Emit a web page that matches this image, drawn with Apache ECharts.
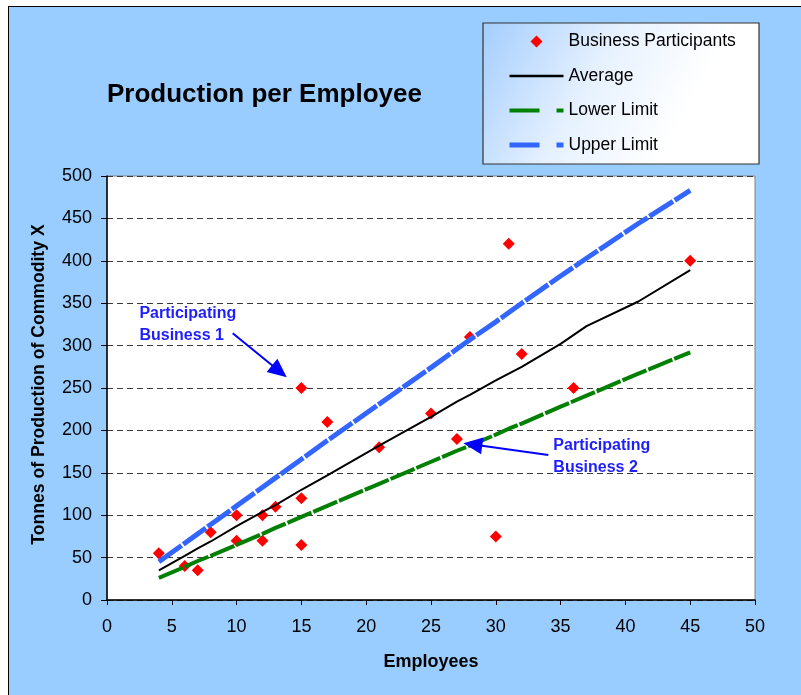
<!DOCTYPE html>
<html>
<head>
<meta charset="utf-8">
<script src="https://cdn.jsdelivr.net/npm/echarts@6/dist/echarts.min.js"></script>
<style>
  html, body { margin: 0; padding: 0; background: #ffffff; overflow: hidden; }
  #frame { position: absolute; left: 8px; top: 6px; width: 810px; height: 710px;
           background: #99ccff; border: 1.5px solid #000; box-sizing: border-box; }
  #chart { position: absolute; left: 0; top: 0; width: 801px; height: 695px; }
</style>
</head>
<body>
<div id="frame"></div>
<div id="chart"></div>
<script>
// Each participating business: employees and tonnes produced
const employees = [4, 6, 7, 8, 10, 10, 12, 12, 13, 15, 15, 15, 17, 21, 25, 27, 28, 30, 31, 32, 36, 45];
const tonnes    = [55, 40, 35, 80, 100, 70, 100, 70, 110, 250, 120, 65, 210, 180, 220, 190, 310, 75, 420, 290, 250, 400];

// Reference lines, sampled at the employee counts
const limitEmployees = [4, 6, 7, 8, 10, 12, 13, 15, 17, 21, 25, 27, 28, 30, 31, 32, 35, 37, 41, 45];
const averageLine    = [35, 52, 61, 69, 87, 104, 112, 130, 147, 182, 216, 234, 242, 259, 267, 275, 302, 323, 352, 389];
const lowerLimit     = [26, 39, 46, 52, 65, 78, 85, 98, 111, 137, 163, 176, 182, 195, 202, 208, 228, 241, 267, 292];
const upperLimit     = [45, 67, 78, 89, 111, 133, 144, 166, 188, 231, 274, 296, 307, 328, 339, 350, 382, 403, 444, 483];

// Axis ticks
const xTicks = { min: 0, max: 50, step: 5 };
const yTicks = { min: 0, max: 500, step: 50 };

// Callouts: text anchor and arrow tail/tip, in data units
const callouts = [
  { text: 'Participating\nBusiness 1', at: [2.5, 324.6], tail: [9.7, 314.5], tip: [13.87, 262.6] },
  { text: 'Participating\nBusiness 2', at: [34.44, 168.9], tail: [34.05, 171], tip: [27.5, 184.8] }
];

const FONT = "'Liberation Sans', Arial, Helvetica, sans-serif";

const pairs = (xs, ys) => xs.map((x, i) => [x, ys[i]]);

const chart = echarts.init(document.getElementById('chart'), null, { renderer: 'canvas' });

// Legend line icons show only the stroke, no marker in the middle
const hiddenMarker = { color: 'rgba(0,0,0,0)', borderWidth: 0, opacity: 0 };
// Square-proportioned diamond so the legend marker is not stretched
const diamondIcon = 'path://M0,6L6,0L12,6L6,12Z';

chart.setOption({
  backgroundColor: 'transparent',
  animation: false,
  textStyle: { fontFamily: FONT },
  title: {
    text: 'Production per Employee',
    left: 107, top: 82, padding: 0,
    textStyle: { fontFamily: FONT, fontSize: 26, fontWeight: 'bold', color: '#000', lineHeight: 26 }
  },
  grid: {
    left: 107, top: 176, right: 46, bottom: 95,
    show: true, backgroundColor: '#ffffff', borderColor: '#808080', borderWidth: 1,
    containLabel: false
  },
  legend: {
    orient: 'vertical',
    left: 507, top: 32.5,
    padding: 0,
    itemWidth: 54, itemHeight: 12, itemGap: 16.5,
    symbolKeepAspect: true,
    textStyle: { fontFamily: FONT, fontSize: 17.5, color: '#000', lineHeight: 17 },
    data: [
      { name: 'Business Participants', icon: diamondIcon, itemStyle: { color: '#ff0000', opacity: 1 } },
      { name: 'Average', lineStyle: { width: 2.5, type: 'solid' }, itemStyle: hiddenMarker },
      { name: 'Lower Limit', lineStyle: { width: 4, type: [30, 17] }, itemStyle: hiddenMarker },
      { name: 'Upper Limit', lineStyle: { width: 5, type: [30, 17] }, itemStyle: hiddenMarker }
    ]
  },
  graphic: [{
    type: 'rect', z: 1,
    shape: { x: 483, y: 23, width: 276, height: 141 },
    style: {
      stroke: '#333', lineWidth: 1.2,
      fill: new echarts.graphic.LinearGradient(0, 0, 0.7, 0.75, [
        { offset: 0, color: '#a3cdfd' },
        { offset: 0.55, color: '#e6f1ff' },
        { offset: 1, color: '#ffffff' }
      ])
    }
  }],
  xAxis: {
    type: 'value',
    min: xTicks.min, max: xTicks.max, interval: xTicks.step,
    name: 'Employees', nameLocation: 'middle', nameGap: 53,
    nameTextStyle: { fontFamily: FONT, fontSize: 18, fontWeight: 'bold', color: '#000' },
    axisLine: { show: true, onZero: false, lineStyle: { color: '#000', width: 1.5 } },
    axisTick: { show: true, length: 5, inside: false, lineStyle: { color: '#000', width: 1 } },
    axisLabel: { fontFamily: FONT, fontSize: 18, color: '#000', margin: 18 },
    splitLine: { show: false }
  },
  yAxis: {
    type: 'value',
    min: yTicks.min, max: yTicks.max, interval: yTicks.step,
    name: 'Tonnes of Production of Commodity X', nameLocation: 'middle', nameGap: 59,
    nameTextStyle: { fontFamily: FONT, fontSize: 17.6, fontWeight: 'bold', color: '#000', padding: [0, 0, 0, 7] },
    axisLine: { show: true, lineStyle: { color: '#000', width: 1.5 } },
    axisTick: { show: true, length: 6, inside: false, lineStyle: { color: '#000', width: 1 } },
    axisLabel: { fontFamily: FONT, fontSize: 18, color: '#000', margin: 15 },
    splitLine: { show: true, lineStyle: { color: '#3a3a3a', width: 1, type: [6, 4] } }
  },
  series: [
    {
      name: 'Business Participants', type: 'scatter',
      symbol: 'diamond', symbolSize: 12,
      itemStyle: { color: '#ff0000', opacity: 1 },
      data: pairs(employees, tonnes)
    },
    {
      name: 'Average', type: 'line', symbol: 'none', showSymbol: false,
      lineStyle: { color: '#000000', width: 2 },
      itemStyle: { color: '#000000' },
      data: pairs(limitEmployees, averageLine)
    },
    {
      name: 'Lower Limit', type: 'line', symbol: 'none', showSymbol: false,
      lineStyle: { color: '#008000', width: 4, type: [26, 2] },
      itemStyle: { color: '#008000' },
      data: pairs(limitEmployees, lowerLimit)
    },
    {
      name: 'Upper Limit', type: 'line', symbol: 'none', showSymbol: false,
      lineStyle: { color: '#3366ff', width: 5, type: [28, 2] },
      itemStyle: { color: '#3366ff' },
      data: pairs(limitEmployees, upperLimit)
    }
  ]
});

// Callout labels and arrows, placed through the grid's coordinate system
const toPx = p => chart.convertToPixel({ gridIndex: 0 }, p);
const calloutGraphics = [];
callouts.forEach((c) => {
  const at = toPx(c.at), tail = toPx(c.tail), tip = toPx(c.tip);
  const dx = tip[0] - tail[0], dy = tip[1] - tail[1];
  const len = Math.hypot(dx, dy), ux = dx / len, uy = dy / len;
  const headLen = 19, headHalf = 8.5;
  const bx = tip[0] - ux * headLen, by = tip[1] - uy * headLen;
  calloutGraphics.push({
    type: 'text', z: 20,
    style: {
      text: c.text, x: at[0], y: at[1],
      font: "bold 16px " + FONT, fill: '#1e1eff',
      lineHeight: 22, verticalAlign: 'middle', align: 'left'
    }
  });
  calloutGraphics.push({
    type: 'line', z: 20,
    shape: { x1: tail[0], y1: tail[1], x2: bx + ux * 2, y2: by + uy * 2 },
    style: { stroke: '#0000ff', lineWidth: 2 }
  });
  calloutGraphics.push({
    type: 'polygon', z: 20,
    shape: { points: [
      [tip[0], tip[1]],
      [bx - uy * headHalf, by + ux * headHalf],
      [bx + uy * headHalf, by - ux * headHalf]
    ] },
    style: { fill: '#0000ff' }
  });
});
chart.setOption({ graphic: chart.getOption().graphic[0].elements.concat(calloutGraphics) });
</script>
</body>
</html>
